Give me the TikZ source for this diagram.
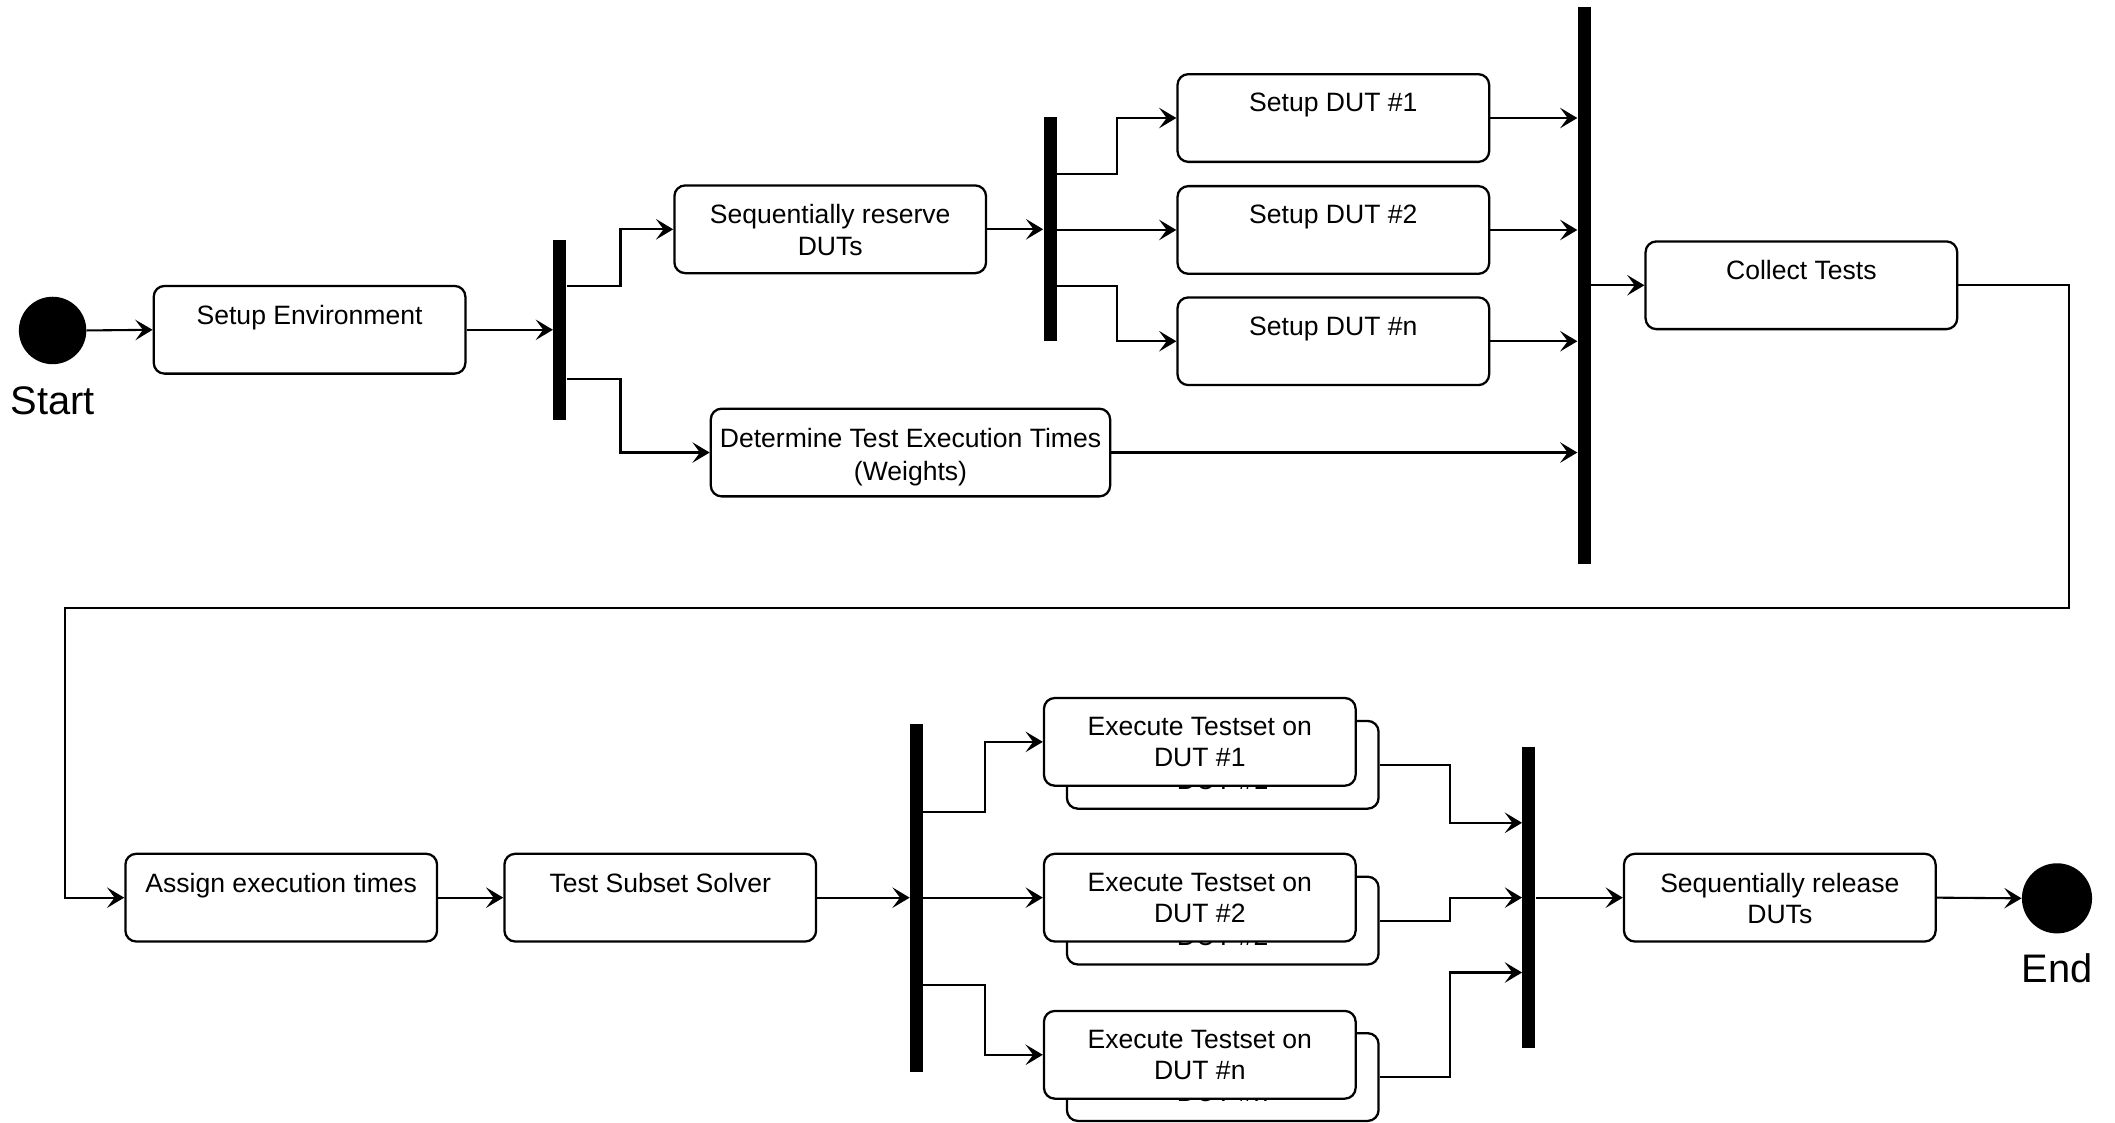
\documentclass[tikz,border=0pt]{standalone}
\usepackage{fontspec}
\setmainfont{Liberation Sans}
\usetikzlibrary{arrows.meta}

\tikzset{
  act/.style={draw, rounded corners=0.2cm, line width=1.2pt, fill=white,
    minimum width=5.775cm, minimum height=1.625cm, inner sep=0pt},
  txt/.style={font=\fontsize{14}{16.5}\selectfont, align=center, inner sep=0pt,
    anchor=north, yshift=-0.37cm},
  bar/.style={fill=black, inner sep=0pt, minimum width=0.24cm},
  dot/.style={circle, fill=black, inner sep=0pt},
  big/.style={font=\fontsize{21}{24}\selectfont},
  flow/.style={-{Stealth[length=0.32cm,width=0.38cm,inset=0.14cm]}, line width=1.1pt},
}

\begin{document}
\begin{tikzpicture}[x=0.025cm, y=-0.025cm]
  \useasboundingbox (0,0) rectangle (1568,832);

  % first row
  \node[dot, minimum size=1.25cm] (start) at (39,245) {};
  \node[big] (startlbl) at (39,297) {Start};
  \node[act, label={[txt]north:Setup Environment}] (env) at (229.5,244.5) {};
  \node[bar, minimum height=3.325cm] (fork1) at (415,244.5) {};
  \node[act, label={[txt]north:{Sequentially reserve\\DUTs}}] (reserve) at (615.5,170) {};
  \node[act, minimum width=7.4cm, label={[txt, font=\fontsize{14}{17.5}\selectfont]north:{Determine Test Execution Times\\(Weights)}}] (determine) at (675,335.5) {};
  \node[bar, minimum height=4.15cm] (fork2) at (778.5,170) {};
  \node[act, label={[txt]north:Setup DUT \#1}] (dut1) at (988.5,87.5) {};
  \node[act, label={[txt]north:Setup DUT \#2}] (dut2) at (988.5,170.5) {};
  \node[act, label={[txt]north:Setup DUT \#n}] (dutn) at (988.5,253) {};
  \node[bar, minimum height=10.325cm] (join1) at (1174.5,211.5) {};
  \node[act, label={[txt]north:Collect Tests}] (collect) at (1335.5,211.5) {};

  % second row
  \node[act, label={[txt]north:Assign execution times}] (assign) at (208.5,665.5) {};
  \node[act, label={[txt]north:Test Subset Solver}] (solver) at (489.5,665.5) {};
  \node[bar, minimum height=6.45cm] (fork3) at (679.5,666) {};
  \node[act, label={[txt]north:{Execute Testset on\\DUT \#1}}] (exec1b) at (906.5,567) {};
  \node[act, label={[txt]north:{Execute Testset on\\DUT \#1}}] (exec1) at (889.5,550) {};
  \node[act, label={[txt]north:{Execute Testset on\\DUT \#2}}] (exec2b) at (906.5,682.5) {};
  \node[act, label={[txt]north:{Execute Testset on\\DUT \#2}}] (exec2) at (889.5,665.5) {};
  \node[act, label={[txt]north:{Execute Testset on\\DUT \#n}}] (execnb) at (906.5,798.5) {};
  \node[act, label={[txt]north:{Execute Testset on\\DUT \#n}}] (execn) at (889.5,782) {};
  \node[bar, minimum height=5.575cm] (join2) at (1133.5,665.5) {};
  \node[act, label={[txt]north:{Sequentially release\\DUTs}}] (release) at (1319.5,665.5) {};
  \node[dot, minimum size=1.3cm] (end) at (1525,666) {};
  \node[big] (endlbl) at (1525,718) {End};

  % connectors
  \draw[flow] (start.east) -- (env.west);
  \draw[flow] (env.east) -- (env.east -| fork1.west);
  \draw[flow] (fork1.east |- 0,212) -- (460,212) |- (reserve.west);
  \draw[flow] (fork1.east |- 0,281) -- (460,281) |- (determine.west);
  \draw[flow] (reserve.east) -- (reserve.east -| fork2.west);
  \draw[flow] (fork2.east |- 0,129) -- (828,129) |- (dut1.west);
  \draw[flow] (fork2.east |- dut2.west) -- (dut2.west);
  \draw[flow] (fork2.east |- 0,212) -- (828,212) |- (dutn.west);
  \draw[flow] (dut1.east) -- (dut1.east -| join1.west);
  \draw[flow] (dut2.east) -- (dut2.east -| join1.west);
  \draw[flow] (dutn.east) -- (dutn.east -| join1.west);
  \draw[flow] (determine.east) -- (determine.east -| join1.west);
  \draw[flow] (join1.east |- collect.west) -- (collect.west);
  \draw[flow] (collect.east) -- (1534,211.5) -- (1534,451) -- (48,451) |- (assign.west);
  \draw[flow] (assign.east) -- (solver.west);
  \draw[flow] (solver.east) -- (solver.east -| fork3.west);
  \draw[flow] (fork3.east |- 0,602) -- (730,602) |- (exec1.west);
  \draw[flow] (fork3.east |- exec2.west) -- (exec2.west);
  \draw[flow] (fork3.east |- 0,730) -- (730,730) |- (execn.west);
  \draw[flow] (exec1b.east) -- (1075,567) |- (join2.west |- 0,610);
  \draw[flow] (exec2b.east) -- (1075,682.5) |- (join2.west);
  \draw[flow] (execnb.east) -- (1075,798.5) |- (join2.west |- 0,721);
  \draw[flow] (join2.east) -- (release.west);
  \draw[flow] (release.east) -- (end.west);
\end{tikzpicture}
\end{document}
